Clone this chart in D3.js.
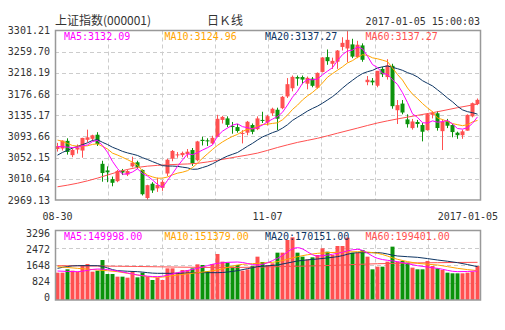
<!DOCTYPE html>
<html><head><meta charset="utf-8">
<script src="https://cdn.jsdelivr.net/npm/d3@7"></script>
<style>body{margin:0;background:#fff}svg{display:block}</style>
</head><body><svg id="c" width="505" height="330"></svg>
<script>
// ---- data ----
const opens  = [3069,3070,3085,3057,3068,3066,3087,3089,3097,3040,3027,3010,3006,3027,3019,3035,3043,3028,2973,3001,2992,2993,3021,3050,3057,3057,3059,3067,3047,3087,3086,3080,3093,3126,3129,3114,3112,3099,3101,3116,3108,3126,3121,3139,3146,3149,3172,3188,3210,3210,3197,3207,3189,3220,3249,3236,3240,3269,3266,3274,3249,3272,3200,3203,3193,3226,3210,3232,3145,3158,3127,3110,3122,3116,3106,3136,3139,3104,3124,3116,3101,3096,3105,3133,3157];
const highs  = [3081,3086,3090,3070,3078,3091,3107,3097,3102,3046,3035,3015,3028,3030,3029,3054,3046,3029,2999,3004,3013,3008,3050,3067,3063,3064,3069,3071,3085,3093,3090,3095,3136,3134,3133,3122,3118,3106,3124,3119,3133,3142,3136,3150,3150,3173,3208,3213,3213,3213,3211,3210,3219,3249,3264,3248,3263,3288,3301.21,3285,3281,3276,3212,3208,3222,3230,3245,3236,3165,3165,3137,3128,3126,3120,3139,3143,3143,3127,3128,3118,3103,3107,3137,3160,3168];
const lows   = [3064,3066,3058,3053,3060,3052,3082,3085,3075,3005,3004,2996,3004,3018,3016,3033,3030,2978,2969.13,2983,2985,2987,3016,3045,3052,3053,3052,3036,3045,3076,3075,3078,3092,3119,3112,3099,3101,3080,3096,3098,3106,3120,3115,3134,3106,3147,3169,3182,3193,3196,3186,3190,3187,3219,3234,3226,3226,3262,3239,3247,3247,3240,3194,3194,3190,3210,3205,3148,3118,3137,3111,3107,3111,3084,3105,3129,3105,3067,3110,3092,3089,3089,3105,3131,3155];
const closes = [3074.68,3085.49,3063.31,3067.35,3072.10,3090.71,3091.93,3095.95,3078.85,3021.98,3023.51,3002.85,3026.05,3023.00,3025.87,3042.31,3033.90,2980.43,2998.17,2987.86,2998.48,3004.70,3048.14,3065.25,3058.50,3061.35,3063.81,3041.17,3083.88,3084.72,3084.46,3090.94,3128.25,3131.94,3116.31,3112.35,3104.27,3100.49,3122.44,3102.73,3128.94,3125.32,3133.33,3147.89,3128.37,3171.28,3196.04,3210.37,3206.99,3205.06,3208.45,3192.86,3218.15,3248.35,3241.14,3241.74,3261.94,3277.00,3282.92,3250.03,3273.31,3243.84,3204.71,3199.65,3222.24,3215.37,3232.88,3152.97,3155.04,3140.53,3117.68,3122.98,3118.08,3102.88,3137.43,3139.56,3110.15,3122.57,3114.66,3102.24,3096.10,3103.64,3135.92,3158.79,3165.41];
const volumes = [1296,1296,1455,1391,1344,1660,1707,1344,1391,1897,1233,1233,1107,1107,1059,1344,1075,1296,1107,949,1059,949,1502,1502,1296,1423,1423,1502,1692,1660,1375,1707,2182,1818,1771,1581,1660,1391,1455,1613,2055,1802,1660,1739,2245,2245,2846,2972,2245,2055,1929,2024,2134,2451,2292,2134,2561,2561,2956,2245,2245,2372,2055,1455,1581,1581,1818,2530,1818,1850,1771,1534,1455,1455,1850,1613,1502,1423,1296,1265,1265,1265,1296,1344,1613];

const ma5  = [3073.8,3073.6,3072.6,3072.0,3072.4,3075.6,3077.0,3083.6,3086.0,3076.0,3062.6,3044.8,3030.8,3019.6,3020.4,3024.0,3030.2,3021.0,3016.0,3008.4,2999.6,2993.8,3007.4,3020.8,3035.0,3047.6,3059.4,3058.0,3061.8,3067.0,3071.6,3077.0,3094.4,3104.0,3110.2,3115.8,3118.4,3112.8,3110.8,3108.2,3111.6,3115.8,3122.4,3127.6,3132.6,3141.0,3155.2,3170.6,3182.4,3197.8,3205.2,3204.6,3206.2,3214.4,3221.6,3228.4,3242.2,3254.0,3261.0,3262.8,3269.0,3265.4,3251.0,3234.4,3228.8,3217.2,3215.0,3204.6,3195.6,3179.4,3160.0,3138.0,3131.0,3120.6,3119.8,3124.2,3121.6,3122.6,3125.0,3118.0,3109.2,3108.0,3110.6,3119.4,3132.0];
const ma10 = [3086.5,3084.1,3080.0,3075.9,3074.6,3074.7,3075.3,3078.1,3079.0,3074.2,3069.1,3060.9,3057.2,3052.8,3048.2,3043.3,3037.5,3025.9,3017.8,3014.4,3011.8,3012.0,3014.2,3018.4,3021.7,3023.6,3026.6,3032.7,3041.3,3051.0,3059.6,3068.2,3076.2,3082.9,3088.6,3093.7,3097.7,3103.6,3107.4,3109.2,3113.7,3117.1,3117.6,3119.2,3120.4,3126.3,3135.5,3146.5,3155.0,3165.2,3173.1,3179.9,3188.4,3198.4,3209.7,3216.8,3223.4,3230.1,3237.7,3242.2,3248.7,3253.8,3252.5,3247.7,3245.8,3243.1,3240.2,3227.8,3215.0,3204.1,3188.6,3176.5,3167.8,3158.1,3149.6,3142.1,3129.8,3126.8,3122.8,3118.9,3116.7,3114.8,3116.6,3122.2,3125.0];
const ma20 = [3057.0,3062.4,3066.4,3070.9,3074.3,3077.6,3081.2,3085.9,3087.3,3082.1,3077.8,3072.5,3068.6,3064.4,3061.4,3059.0,3056.4,3052.0,3048.4,3044.3,3040.5,3036.5,3035.7,3035.6,3035.0,3033.5,3032.1,3029.3,3029.6,3032.7,3035.7,3040.1,3045.2,3050.7,3055.2,3058.7,3062.2,3068.2,3074.4,3080.1,3086.7,3092.7,3096.9,3101.1,3104.5,3110.0,3116.6,3125.1,3131.2,3137.2,3143.4,3148.5,3153.0,3158.8,3165.1,3171.6,3179.5,3188.3,3196.4,3203.7,3210.9,3216.9,3220.5,3223.1,3227.8,3230.0,3231.8,3229.0,3226.4,3223.2,3218.7,3215.2,3210.2,3202.9,3197.7,3192.6,3185.0,3177.3,3168.9,3161.5,3152.7,3145.7,3142.2,3140.2,3137.3];
const ma60Idx = [0,4,8,12,16,20,24,28,32,36,40,44,48,52,56,60,64,68,72,76,80,84];
const ma60 = [2995,3002,3012,3024,3033,3037,3039,3041,3047,3054,3061,3072,3082,3090,3100,3110,3120,3128,3135,3142,3150,3157];

const volMaIdx = [0,4,8,12,16,20,24,28,32,36,40,44,48,52,56,60,64,68,72,76,80,84];
const volMa5  = [1375,1344,1470,1375,1186,1107,1296,1502,1739,1802,1660,1976,2482,2087,2213,2403,1976,1818,1628,1502,1344,1375];
const volMa10 = [1581,1502,1423,1344,1186,1075,1186,1296,1423,1660,1739,1818,2055,2213,2261,2292,2213,1929,1739,1660,1502,1391];
const volMa20 = [1502,1628,1628,1391,1344,1265,1265,1296,1296,1391,1581,1660,1850,1945,2055,2245,2245,2087,2024,1897,1771,1581];
const volMa60 = [1628,1620,1612,1600,1590,1575,1560,1550,1545,1545,1560,1580,1600,1620,1650,1690,1720,1740,1760,1770,1780,1786];

const priceTicks = [2969.13,3010.64,3052.15,3093.66,3135.17,3176.68,3218.19,3259.70,3301.21];
const volTicks = [0,824,1648,2472,3296];
const xTickIdx = [0,42,84];
const xTickLabels = ["08-30","11-07","2017-01-05"];
const maLabels = ["MA5:3132.09","MA10:3124.96","MA20:3137.27","MA60:3137.27"];
const volMaLabels = ["MA5:149998.00","MA10:151379.00","MA20:170151.00","MA60:199401.00"];
const maColors = ["#f0f","#ffa500","#0d3563","#ff5050"];
const UP = "#ff5050", DOWN = "#0b930b";

// ---- drawing ----
const svg = d3.select("#c");
const L = 55, R = 481;
const mainTop = 30.5, mainBot = 200, volTop = 230.5, volBot = 300;
const mono = "'DejaVu Sans Mono', monospace";
const n = closes.length;

const x = d3.scaleBand().domain(d3.range(n)).range([L - 0.5, R - 1.5]).paddingInner(0.2).paddingOuter(0.1);
const cx = i => Math.round(x(i)) + 2;
const y = d3.scaleLinear().domain([priceTicks[0], priceTicks[priceTicks.length-1]]).range([mainBot, mainTop]);
const yv = d3.scaleLinear().domain([0, 3296]).range([volBot, volTop]);
const yvLab = d3.scaleLinear().domain([0, 3296]).range([297, 233]);

// grids
const gx = d3.range(1, 8).map(k => Math.round(L + k * (R - L) / 8) + 0.5);
function vgrid(t, b) {
  svg.append("g").selectAll("line").data(gx).join("line")
    .attr("x1", d => d).attr("x2", d => d).attr("y1", t).attr("y2", b)
    .attr("stroke", "#ccc").attr("stroke-dasharray", "4,3");
}
vgrid(mainTop, mainBot); vgrid(volTop, volBot);
svg.append("g").selectAll("line").data(priceTicks.slice(1, -1)).join("line")
  .attr("x1", L).attr("x2", R).attr("y1", d => Math.round(y(d)) + 0.5).attr("y2", d => Math.round(y(d)) + 0.5)
  .attr("stroke", "#ccc").attr("stroke-dasharray", "4,3");
svg.append("g").selectAll("line").data(volTicks.slice(1, -1)).join("line")
  .attr("x1", L).attr("x2", R).attr("y1", d => Math.round(yv(d)) + 0.5).attr("y2", d => Math.round(yv(d)) + 0.5)
  .attr("stroke", "#ccc").attr("stroke-dasharray", "4,3");

// y labels
svg.append("g").selectAll("text").data(priceTicks).join("text")
  .attr("x", 50).attr("y", d => y(d)).attr("dy", "0.35em").attr("text-anchor", "end")
  .attr("font-family", mono).attr("font-size", 10).attr("fill", "#333")
  .text(d => d.toFixed(2));
svg.append("g").selectAll("text").data(volTicks).join("text")
  .attr("x", 50).attr("y", d => yvLab(d)).attr("dy", "0.35em").attr("text-anchor", "end")
  .attr("font-family", mono).attr("font-size", 10).attr("fill", "#333")
  .text(d => d);

// x labels
svg.append("g").selectAll("text").data(xTickIdx).join("text")
  .attr("x", (d, k) => k === 2 ? 498 : cx(d) + 0.5)
  .attr("y", 220).attr("text-anchor", (d, k) => k === 2 ? "end" : "middle")
  .attr("font-family", mono).attr("font-size", 10).attr("fill", "#333")
  .text((d, k) => xTickLabels[k]);

// candles
const g = svg.append("g");
d3.range(n).forEach(i => {
  const up = closes[i] >= opens[i];
  const col = up ? UP : DOWN;
  const X = Math.round(x(i));
  g.append("line").attr("x1", X + 2.5).attr("x2", X + 2.5)
    .attr("y1", y(highs[i])).attr("y2", y(lows[i])).attr("stroke", col);
  const t = y(Math.max(opens[i], closes[i])), b = y(Math.min(opens[i], closes[i]));
  g.append("rect").attr("x", X + 0.5).attr("width", 4)
    .attr("y", t).attr("height", Math.max(1, b - t)).attr("fill", col);
  const vt = yv(volumes[i]);
  g.append("rect").attr("x", X + 0.5).attr("width", 4)
    .attr("y", vt).attr("height", volBot - vt).attr("fill", col);
});

// MA lines
const lineFull = d3.line().x((d, i) => cx(i) + 0.5).y(d => y(d));
[ma60, null, null, null];
svg.append("path").datum(ma60).attr("d", d3.line().x((d, k) => cx(ma60Idx[k]) + 0.5).y(d => y(d)).curve(d3.curveMonotoneX))
  .attr("fill", "none").attr("stroke", maColors[3]);
svg.append("path").datum(ma20).attr("d", lineFull).attr("fill", "none").attr("stroke", maColors[2]);
svg.append("path").datum(ma10).attr("d", lineFull).attr("fill", "none").attr("stroke", maColors[1]);
svg.append("path").datum(ma5).attr("d", lineFull).attr("fill", "none").attr("stroke", maColors[0]);

const vline = d3.line().x((d, k) => cx(volMaIdx[k]) + 0.5).y(d => yv(d)).curve(d3.curveMonotoneX);
[volMa60, volMa20, volMa10, volMa5].forEach((arr, k) => {
  svg.append("path").datum(arr).attr("d", vline).attr("fill", "none").attr("stroke", maColors[3 - k]);
});

// borders
svg.append("rect").attr("x", L + 0.5).attr("y", mainTop).attr("width", R - L - 1).attr("height", mainBot - mainTop)
  .attr("fill", "none").attr("stroke", "#999").attr("stroke-width", 1.5);
svg.append("rect").attr("x", L + 0.5).attr("y", volTop).attr("width", R - L - 1).attr("height", volBot - volTop)
  .attr("fill", "none").attr("stroke", "#999").attr("stroke-width", 1.5);

// MA legends
maLabels.forEach((t, k) => {
  svg.append("text").attr("x", 64 + k * 100.5).attr("y", 40).attr("font-family", mono).attr("font-size", 10)
    .attr("fill", maColors[k]).text(t);
});
volMaLabels.forEach((t, k) => {
  svg.append("text").attr("x", 64 + k * 100.5).attr("y", 240).attr("font-family", mono).attr("font-size", 10)
    .attr("fill", maColors[k]).text(t);
});

// titles
svg.append("text").attr("x", 55).attr("y", 25).attr("font-family", "'Noto Sans CJK SC', sans-serif")
  .attr("font-size", 12).attr("fill", "#333").text("上证指数(000001)");
svg.append("text").attr("x", 225).attr("y", 25).attr("text-anchor", "middle").attr("font-family", "'Noto Sans CJK SC', sans-serif")
  .attr("font-size", 12).attr("fill", "#333").text("日Ｋ线");
svg.append("text").attr("x", 480).attr("y", 25).attr("text-anchor", "end").attr("font-family", mono)
  .attr("font-size", 10).attr("fill", "#333").text("2017-01-05 15:00:03");
</script></body></html>
